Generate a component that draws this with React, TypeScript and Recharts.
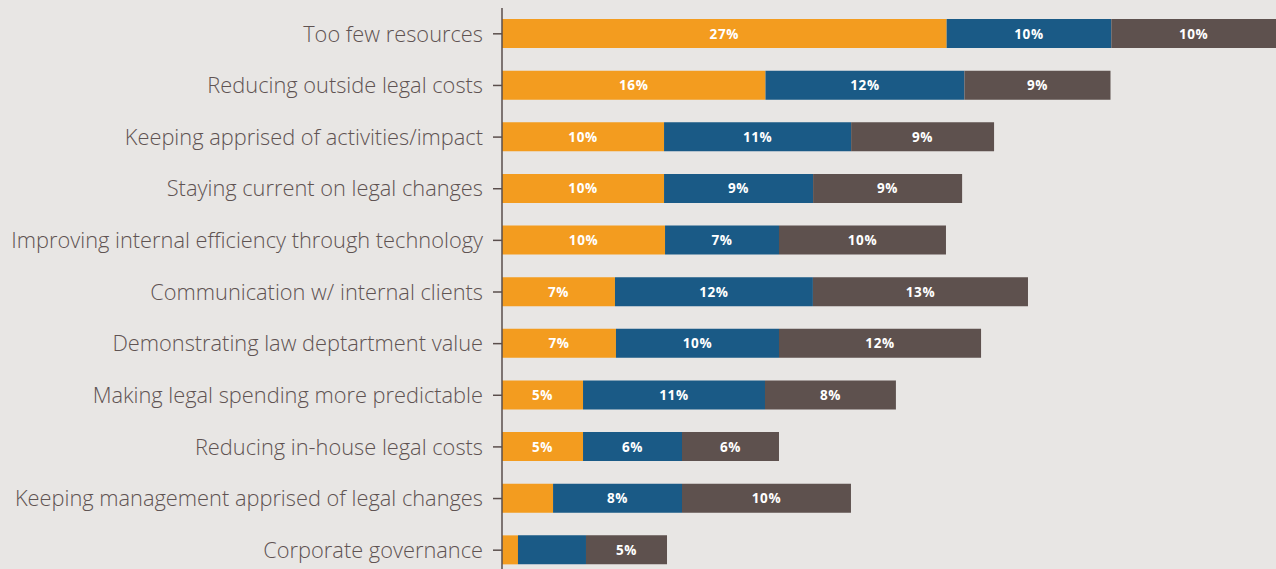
import React from "react";
import { BarChart, Bar, XAxis, YAxis, LabelList } from "recharts";

const categories = [
  "Too few resources",
  "Reducing outside legal costs",
  "Keeping apprised of activities/impact",
  "Staying current on legal changes",
  "Improving internal efficiency through technology",
  "Communication w/ internal clients",
  "Demonstrating law deptartment value",
  "Making legal spending more predictable",
  "Reducing in-house legal costs",
  "Keeping management apprised of legal changes",
  "Corporate governance",
];

const firstValues = [27, 16, 9.84, 9.84, 9.9, 6.86, 6.92, 4.92, 4.92, 3.1, 0.97];
const secondValues = [10, 12.08, 11.36, 9.05, 6.92, 12.02, 9.9, 11.05, 6.01, 7.83, 4.13];
const thirdValues = [10, 8.87, 8.68, 9.05, 10.14, 13.06, 12.27, 7.95, 5.89, 10.26, 4.92];

const data = categories.map((name, i) => ({
  name,
  first: firstValues[i],
  second: secondValues[i],
  third: thirdValues[i],
}));

const renderLabel = (props: any) => {
  const { x, y, width, height, value } = props;
  if (value == null || value < 4.5) return null;
  return (
    <text
      x={Number(x) + Number(width) / 2}
      y={Number(y) + Number(height) / 2}
      fill="#ffffff"
      fontSize={13.5}
      fontWeight={700}
      letterSpacing={0.6}
      fontFamily="'Open Sans', sans-serif"
      textAnchor="middle"
      dominantBaseline="central"
    >
      {Math.round(value) + "%"}
    </text>
  );
};

export default function App() {
  return (
    <div
      style={{
        position: "fixed",
        left: 0,
        top: 0,
        width: 1276,
        height: 569,
        overflow: "hidden",
        background: "#E8E6E4",
      }}
    >
      <BarChart
        width={1276}
        height={576}
        data={data}
        layout="vertical"
        margin={{ top: 8, right: 0, bottom: 0, left: 0 }}
        barSize={29}
      >
        <XAxis type="number" domain={[0, 47]} hide />
        <YAxis
          type="category"
          dataKey="name"
          width={502}
          axisLine={{ stroke: "#5a4e4c", strokeWidth: 1.5 }}
          tickLine={{ stroke: "#5a4e4c", strokeWidth: 1.5 }}
          tickSize={9}
          tickMargin={10}
          interval={0}
          tick={{
            fill: "#5f5352",
            fontSize: 21.8,
            fontWeight: 300,
            fontFamily: "'Open Sans', sans-serif",
          }}
        />
        <Bar dataKey="first" stackId="a" fill="#F39C1F" isAnimationActive={false}>
          <LabelList dataKey="first" content={renderLabel} />
        </Bar>
        <Bar dataKey="second" stackId="a" fill="#1A5A86" isAnimationActive={false}>
          <LabelList dataKey="second" content={renderLabel} />
        </Bar>
        <Bar dataKey="third" stackId="a" fill="#5E514E" isAnimationActive={false}>
          <LabelList dataKey="third" content={renderLabel} />
        </Bar>
      </BarChart>
    </div>
  );
}
